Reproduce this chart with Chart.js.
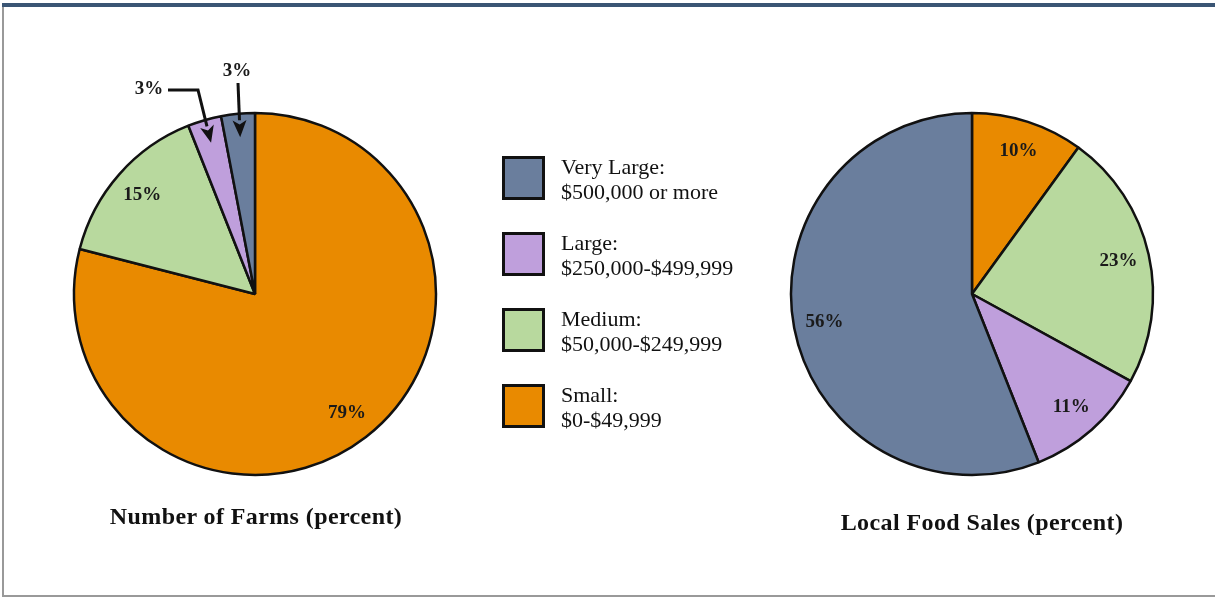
<!DOCTYPE html>
<html>
<head>
<meta charset="utf-8">
<script src="https://cdn.jsdelivr.net/npm/chart.js@4/dist/chart.umd.min.js"></script>
<style>
    body { margin: 0; background: #fff; width: 1215px; height: 599px; overflow: hidden; position: relative;
           font-family: "Liberation Serif", "Times New Roman", serif; color: #111; }
    .frame-top { position: absolute; left: 2px; right: 0; top: 3px; height: 4px; background: #3a5574; }
    .frame-left { position: absolute; left: 2px; top: 7px; width: 2px; height: 590px; background: #999; }
    .frame-bottom { position: absolute; left: 2px; right: 0; top: 595px; height: 2px; background: #999; }
    .pie { position: absolute; width: 480px; height: 480px; }
    .pie canvas { width: 480px !important; height: 480px !important; }
    .title { position: absolute; font-weight: bold; font-size: 24px; letter-spacing: 0.4px;
             transform: translate(-50%, -50%); white-space: nowrap; }
    #legend { position: absolute; left: 502px; top: 156px; }
    .item { position: absolute; left: 0; width: 260px; height: 60px; }
    .swatch { position: absolute; left: 0; top: 0; width: 37px; height: 38px; border: 3px solid #111; }
    .lbl { position: absolute; left: 59px; top: -2px; font-size: 22px; line-height: 25px; white-space: nowrap; }
</style>
</head>
<body>
<div class="frame-top"></div>
<div class="frame-left"></div>
<div class="frame-bottom"></div>

<div class="pie" style="left:15px; top:54px;"><canvas id="farms" width="480" height="480"></canvas></div>
<div class="pie" style="left:732px; top:54px;"><canvas id="sales" width="480" height="480"></canvas></div>

<div id="legend"></div>

<div class="title" style="left:256px; top:516px;">Number of Farms (percent)</div>
<div class="title" style="left:982px; top:522px;">Local Food Sales (percent)</div>

<script>
// sales classes, in pie order (clockwise from 12 o'clock)
const classes = ['Small', 'Medium', 'Large', 'Very Large'];
const ranges = ['$0-$49,999', '$50,000-$249,999', '$250,000-$499,999', '$500,000 or more'];
const colors = ['#e98a00', '#b8d99e', '#bf9fdc', '#6a7e9d'];

const farmShares = [79, 15, 3, 3];
const salesShares = [10, 23, 11, 56];

// legend lists the largest class first
const legend = document.getElementById('legend');
for (let i = classes.length - 1, row = 0; i >= 0; i--, row++) {
    const item = document.createElement('div');
    item.className = 'item';
    item.style.top = (row * 76) + 'px';
    item.innerHTML = '<div class="swatch" style="background:' + colors[i] + '"></div>' +
        '<div class="lbl">' + classes[i] + ':<br>' + ranges[i] + '</div>';
    legend.appendChild(item);
}

// slices too thin for an inside label get a label above the pie with an arrow;
// offsets are from the pie centre: label position and the arrow's path before the tip
const farmCallouts = {
    2: { label: [-106, -205], path: [[-87, -204], [-57, -204]] },
    3: { label: [-18, -223], path: [[-17, -211]] }
};

const sliceLabels = {
    id: 'sliceLabels',
    afterDatasetsDraw(chart, args, opts) {
        const ctx = chart.ctx;
        const values = chart.data.datasets[0].data;
        const callouts = opts.callouts || {};
        ctx.save();
        ctx.font = 'bold 19px "Liberation Serif"';
        ctx.fillStyle = '#1a1a1a';
        ctx.strokeStyle = '#111';
        ctx.textAlign = 'center';
        ctx.textBaseline = 'middle';
        chart.getDatasetMeta(0).data.forEach((arc, i) => {
            const p = arc.getProps(['x', 'y', 'startAngle', 'endAngle', 'outerRadius'], true);
            const mid = (p.startAngle + p.endAngle) / 2;
            const text = values[i] + '%';
            const c = callouts[i];
            if (!c) {
                const r = p.outerRadius * 0.83;
                ctx.fillText(text, p.x + Math.cos(mid) * r, p.y + Math.sin(mid) * r);
                return;
            }
            ctx.fillText(text, p.x + c.label[0], p.y + c.label[1]);
            const tip = [p.x + Math.cos(mid) * p.outerRadius * 0.87, p.y + Math.sin(mid) * p.outerRadius * 0.87];
            const pts = c.path.map(q => [p.x + q[0], p.y + q[1]]);
            const last = pts[pts.length - 1];
            const ang = Math.atan2(tip[1] - last[1], tip[0] - last[0]);
            const head = 17, half = 7;
            const base = [tip[0] - Math.cos(ang) * head, tip[1] - Math.sin(ang) * head];
            ctx.lineWidth = 3;
            ctx.beginPath();
            ctx.moveTo(pts[0][0], pts[0][1]);
            pts.slice(1).forEach(q => ctx.lineTo(q[0], q[1]));
            ctx.lineTo(base[0], base[1]);
            ctx.stroke();
            ctx.beginPath();
            ctx.moveTo(tip[0], tip[1]);
            ctx.lineTo(base[0] - Math.sin(ang) * half, base[1] + Math.cos(ang) * half);
            ctx.lineTo(tip[0] - Math.cos(ang) * head * 0.75, tip[1] - Math.sin(ang) * head * 0.75);
            ctx.lineTo(base[0] + Math.sin(ang) * half, base[1] - Math.cos(ang) * half);
            ctx.closePath();
            ctx.fillStyle = '#111';
            ctx.fill();
            ctx.fillStyle = '#1a1a1a';
        });
        ctx.restore();
    }
};

function renderSharePie(ctx, values, callouts) {
    return new Chart(ctx, {
        type: 'pie',
        data: {
            labels: classes,
            datasets: [{
                data: values,
                backgroundColor: colors,
                borderColor: '#111',
                borderWidth: 2.5
            }]
        },
        options: {
            responsive: false,
            animation: false,
            radius: 181,
            plugins: {
                legend: { display: false },
                tooltip: { enabled: false },
                sliceLabels: { callouts: callouts }
            }
        },
        plugins: [sliceLabels]
    });
}

renderSharePie(document.getElementById('farms'), farmShares, farmCallouts);
renderSharePie(document.getElementById('sales'), salesShares, {});
</script>
</body>
</html>
